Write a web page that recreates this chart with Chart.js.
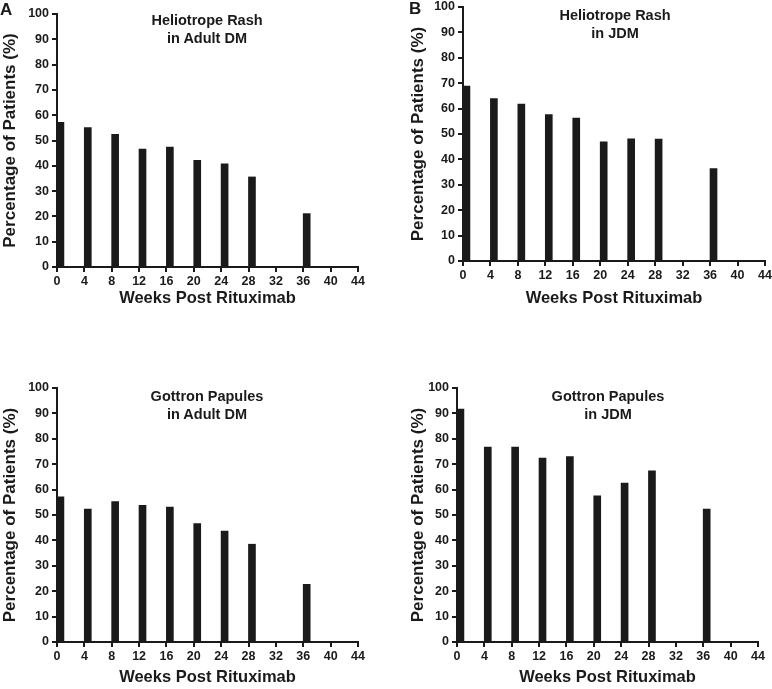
<!DOCTYPE html>
<html><head><meta charset="utf-8">
<script src="https://cdn.jsdelivr.net/npm/chart.js@4.4.1/dist/chart.umd.min.js"></script>
<style>
html,body{margin:0;padding:0;background:#fff;overflow:hidden;}
#wrap{position:relative;width:772px;height:689px;}
canvas{position:absolute;}
.ttl{position:absolute;font-family:"Liberation Sans",Arial,sans-serif;font-weight:bold;font-size:14.5px;line-height:18px;text-align:center;color:#1a1a1a;transform:translateX(-50%);white-space:nowrap;}
.lbl{position:absolute;font-family:"Liberation Sans",Arial,sans-serif;font-weight:bold;font-size:17px;line-height:17px;color:#1a1a1a;}
</style></head><body>
<div id="wrap">
<canvas id="cA" width="386" height="320" style="left:0;top:0"></canvas>
<canvas id="cB" width="386" height="320" style="left:386px;top:0"></canvas>
<canvas id="cC" width="386" height="369" style="left:0;top:320px"></canvas>
<canvas id="cD" width="386" height="369" style="left:386px;top:320px"></canvas>
<div class="lbl" style="left:0;top:1px">A</div>
<div class="lbl" style="left:409px;top:0">B</div>
<div class="ttl" style="left:207px;top:11px">Heliotrope Rash<br>in Adult DM</div>
<div class="ttl" style="left:615px;top:6px">Heliotrope Rash<br>in JDM</div>
<div class="ttl" style="left:207px;top:387px">Gottron Papules<br>in Adult DM</div>
<div class="ttl" style="left:608px;top:387px">Gottron Papules<br>in JDM</div>
</div>
<script>
// ---- data ----
const weeks = [0, 4, 8, 12, 16, 20, 24, 28, 36];
const heliotropeAdultDM = [57.2, 55.1, 52.4, 46.6, 47.4, 42.2, 40.8, 35.6, 21.1];
const heliotropeJDM     = [68.9, 63.9, 61.8, 57.6, 56.3, 46.9, 48.1, 48.0, 36.4];
const gottronAdultDM    = [57.2, 52.3, 55.3, 53.8, 53.1, 46.6, 43.7, 38.5, 22.7];
const gottronJDM        = [91.7, 76.7, 76.7, 72.4, 73.0, 57.5, 62.6, 67.4, 52.3];
const xTicks = [0, 4, 8, 12, 16, 20, 24, 28, 32, 36, 40, 44];
const yTicks = [0, 10, 20, 30, 40, 50, 60, 70, 80, 90, 100];
const xTitle = 'Weeks Post Rituximab';
const yTitle = 'Percentage of Patients (%)';

const INK = '#1a1a1a';
const FAM = '"Liberation Sans", Arial, sans-serif';

function makeChart(id, values, g) {
  new Chart(document.getElementById(id), {
    type: 'bar',
    data: {
      datasets: [{
        data: weeks.map((w, i) => ({x: w, y: values[i]})),
        backgroundColor: INK,
        borderWidth: 0,
        barThickness: 7,
        xAxisID: 'xd',
        yAxisID: 'y'
      }]
    },
    options: {
      responsive: false,
      animation: false,
      devicePixelRatio: 1,
      layout: {padding: {left: g.pl, top: g.pt, right: g.pr, bottom: 0}},
      plugins: {legend: {display: false}, tooltip: {enabled: false}},
      scales: {
        x: {
          type: 'linear', position: 'bottom', min: 0, max: 44, offset: false,
          afterBuildTicks: s => { s.ticks = xTicks.map(v => ({value: v})); },
          ticks: {font: {family: FAM, size: 12.5, weight: 'bold'}, color: INK, padding: 2, maxRotation: 0, autoSkip: false},
          grid: {display: true, drawOnChartArea: false, drawTicks: true, tickLength: 5, color: INK, lineWidth: 2, offset: false},
          border: {display: true, color: INK, width: 2},
          title: {display: true, text: xTitle, color: INK, font: {family: FAM, size: 16.5, weight: 'bold'}, padding: {top: 0, bottom: g.tb}},
          afterFit: s => { s.height = g.xh; s.paddingLeft = 0; s.paddingRight = 0; }
        },
        xd: {type: 'linear', display: false, min: -0.5, max: 43.5, offset: false, grid: {offset: false}},
        y: {
          type: 'linear', position: 'left', min: 0, max: 100,
          afterBuildTicks: s => { s.ticks = yTicks.map(v => ({value: v})); },
          ticks: {font: {family: FAM, size: 12.5, weight: 'bold'}, color: INK, padding: 3},
          grid: {display: true, drawOnChartArea: false, drawTicks: true, tickLength: 5, color: INK, lineWidth: 2},
          border: {display: true, color: INK, width: 2},
          title: {display: true, text: yTitle, color: INK, font: {family: FAM, size: 17, weight: 'bold'}, padding: 0},
          afterFit: s => { s.width = g.yw; s.paddingTop = 0; s.paddingBottom = 0; }
        }
      }
    }
  });
}

makeChart('cA', heliotropeAdultDM, {pl: 0,  yw: 57, pt: 14, pr: 28, xh: 53, tb: 12});
makeChart('cB', heliotropeJDM,     {pl: 22, yw: 55, pt: 7,  pr: 7,  xh: 59, tb: 12});
makeChart('cC', gottronAdultDM,    {pl: 0,  yw: 57, pt: 68, pr: 28, xh: 47, tb: 2});
makeChart('cD', gottronJDM,        {pl: 22, yw: 49, pt: 68, pr: 14, xh: 47, tb: 2});
</script>
</body></html>
